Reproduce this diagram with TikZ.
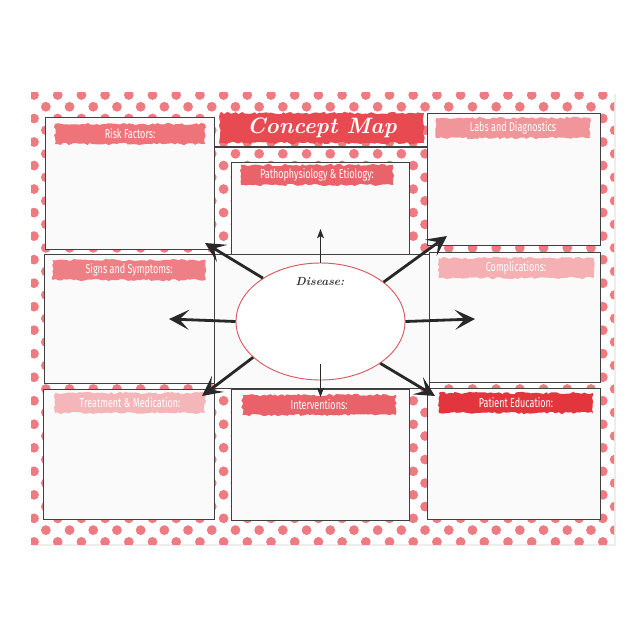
\documentclass[tikz,border=0pt]{standalone}
\usepackage{fontspec}
\usepackage{tikz}
\usetikzlibrary{arrows.meta,shapes.geometric,decorations.pathmorphing}

\newfontfamily\bannerfont[FakeStretch=0.7]{Fira Sans}
\definecolor{dotpink}{RGB}{236,124,130}
\definecolor{boxgray}{RGB}{64,64,64}
\definecolor{paneltint}{RGB}{250,250,250}
\definecolor{arrowgray}{RGB}{40,40,40}
\definecolor{ringred}{RGB}{217,90,96}
\definecolor{diseasegray}{RGB}{55,55,55}
\definecolor{riskc}{RGB}{238,116,121}
\definecolor{pathoc}{RGB}{233,99,106}
\definecolor{labsc}{RGB}{240,150,154}
\definecolor{signsc}{RGB}{238,128,133}
\definecolor{complc}{RGB}{245,176,179}
\definecolor{treatc}{RGB}{244,182,185}
\definecolor{intervc}{RGB}{233,98,105}
\definecolor{educ}{RGB}{227,53,61}
\definecolor{titlec}{RGB}{232,74,82}

\begin{document}
\begin{tikzpicture}[x=0.03cm,y=-0.03cm,
panel/.style={draw=boxgray, line width=1.2pt, fill=paneltint, anchor=north west, inner sep=0pt},
brush/.style={fill=#1, text=white, font=\bannerfont\fontsize{11}{11}\selectfont, minimum height=6mm, inner sep=0pt, decorate, decoration={random steps, segment length=2.5pt, amplitude=1pt}},
fat/.style={draw=arrowgray, line width=2.4pt, -{Stealth[length=17pt, width=17pt, inset=8pt]}},
slim/.style={draw=arrowgray, line width=0.8pt, -{Stealth[length=8pt, width=6pt, inset=2pt]}}
]
\useasboundingbox (0,0) rectangle (644,644);
\pgfmathsetseed{7}

\fill[black!7] (33,94) rectangle (616,546);
\fill[white] (31,92) rectangle (614,544);
\begin{scope}
\clip (31,92) rectangle (614,544);
\foreach \r in {0,...,38}
  \foreach \c in {0,...,25}
    \fill[dotpink] ({34+\c*23.7+mod(\r,2)*11.85},{95+\r*11.76}) circle[radius=4.9];
\end{scope}

\node[panel, minimum width=215*0.3mm, minimum height=134*0.3mm] (mid) at (214,254) {};
\node[panel, minimum width=169*0.3mm, minimum height=132*0.3mm] (risk) at (45,117) {};
\node[panel, minimum width=178*0.3mm, minimum height=92*0.3mm] (patho) at (231,162) {};
\node[panel, minimum width=173*0.3mm, minimum height=132*0.3mm] (labs) at (427,113) {};
\node[panel, minimum width=170*0.3mm, minimum height=129*0.3mm] (signs) at (44,254) {};
\node[panel, minimum width=171*0.3mm, minimum height=130*0.3mm] (compl) at (429,252) {};
\node[panel, minimum width=171*0.3mm, minimum height=130*0.3mm] (treat) at (43,389) {};
\node[panel, minimum width=178*0.3mm, minimum height=131*0.3mm] (interv) at (231,389) {};
\node[panel, minimum width=173*0.3mm, minimum height=131*0.3mm] (edu) at (427,388) {};

\coordinate (tl) at (214,147);
\coordinate (tr) at (427,147);
\draw[boxgray, line width=1.2pt] (tl) -- (tr);

\node[brush=titlec, minimum width=204*0.3mm, minimum height=30*0.3mm, font=\bfseries\itshape\fontsize{19}{19}\selectfont] (title) at (322,128) {Concept Map};
\node[brush=riskc, minimum width=150*0.3mm] (riskT) at (130,134) {Risk Factors:};
\node[brush=pathoc, minimum width=152*0.3mm] (pathoT) at (317,175) {Pathophysiology \& Etiology:};
\node[brush=labsc, minimum width=154*0.3mm] (labsT) at (513,128) {Labs and Diagnostics};
\node[brush=signsc, minimum width=153*0.3mm] (signsT) at (129,270) {Signs and Symptoms:};
\node[brush=complc, minimum width=155*0.3mm] (complT) at (516,268) {Complications:};
\node[brush=treatc, minimum width=150*0.3mm] (treatT) at (130,403) {Treatment \& Medication:};
\node[brush=intervc, minimum width=153*0.3mm] (intervT) at (319,405) {Interventions:};
\node[brush=educ, minimum width=154*0.3mm] (eduT) at (516,403) {Patient Education:};

\node[ellipse, draw=ringred, line width=0.8pt, fill=white, minimum width=169*0.3mm, minimum height=117*0.3mm] (dis) at (320.5,321.5) {};
\node[text=diseasegray, font=\bfseries\itshape\fontsize{10}{10}\selectfont] (disT) at (320,282) {Disease:};

\coordinate (tipN) at (320.5,229);
\coordinate (tipS) at (320.5,397);
\coordinate (tipW) at (169,319);
\coordinate (tipE) at (475,319);
\coordinate (tipNW) at (205,243);
\coordinate (tipNE) at (447,236);
\coordinate (tipSW) at (202,396);
\coordinate (tipSE) at (435,396);
\draw[slim] (dis.north) -- (tipN);
\draw[slim] ([yshift=4.8mm]dis.south) -- (tipS);
\draw[fat] (dis.west) -- (tipW);
\draw[fat] (dis.east) -- (tipE);
\draw[fat] (dis.143) -- (tipNW);
\draw[fat] (dis.32) -- (tipNE);
\draw[fat] (dis.208) -- (tipSW);
\draw[fat] (dis.325) -- (tipSE);
\end{tikzpicture}
\end{document}
